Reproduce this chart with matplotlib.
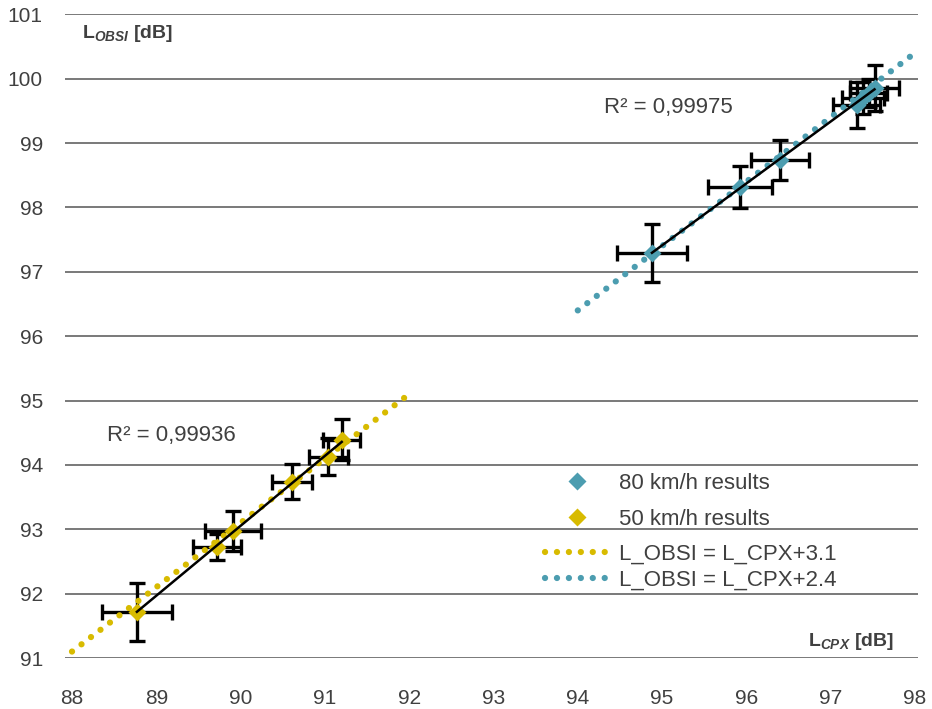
import matplotlib.pyplot as plt
import numpy as np

plt.rcParams['font.family'] = ['Liberation Sans', 'DejaVu Sans']
plt.rcParams['mathtext.fontset'] = 'custom'
plt.rcParams['mathtext.rm'] = 'Liberation Sans'
plt.rcParams['mathtext.bf'] = 'Liberation Sans:bold'
plt.rcParams['mathtext.it'] = 'Liberation Sans:italic:bold'

# 80 km/h measurements
cpx_80 = [94.88, 95.92, 96.40, 97.31, 97.38, 97.45, 97.52]
obsi_80 = [97.29, 98.32, 98.74, 99.59, 99.70, 99.78, 99.86]
cpx_err_80 = [0.42, 0.38, 0.34, 0.28, 0.25, 0.22, 0.29]
obsi_err_80 = [0.45, 0.33, 0.31, 0.36, 0.25, 0.22, 0.36]

# 50 km/h measurements
cpx_50 = [88.77, 89.72, 89.91, 90.61, 91.04, 91.20]
obsi_50 = [91.72, 92.73, 92.97, 93.74, 94.13, 94.39]
cpx_err_50 = [0.42, 0.28, 0.33, 0.24, 0.23, 0.22]
obsi_err_50 = [0.45, 0.20, 0.31, 0.27, 0.28, 0.32]

# reference relations L_OBSI = L_CPX + offset
offset_50 = 3.1
range_50 = [88, 92]
offset_80 = 2.4
range_80 = [94, 98]

r2_80 = '0,99975'
r2_50 = '0,99936'

teal = '#4c9db0'
gold = '#d8bb00'
text_c = '#404040'

fig = plt.figure(figsize=(9.32, 7.09), dpi=100)
ax = fig.add_axes([65 / 932, 51 / 709, 853 / 932, 643.7 / 709])

ax.set_xlim(87.917, 98.036)
ax.set_ylim(91, 101)
ax.set_xticks(np.arange(88, 99))
ax.set_yticks(np.arange(91, 102))
ax.tick_params(length=0, labelsize=15, colors=text_c)
ax.tick_params(axis='x', pad=22)
ax.tick_params(axis='y', pad=16)
ax.yaxis.grid(True, color='#555555', lw=1.1)
ax.set_axisbelow(True)
for s in ['top', 'right', 'left', 'bottom']:
    ax.spines[s].set_visible(False)

eb = dict(fmt='none', ecolor='black', elinewidth=2.4, capsize=6, capthick=2.4, zorder=2)
ax.errorbar(cpx_80, obsi_80, xerr=cpx_err_80, yerr=obsi_err_80, **eb)
ax.errorbar(cpx_50, obsi_50, xerr=cpx_err_50, yerr=obsi_err_50, **eb)

ax.plot(cpx_80, obsi_80, 'D', color=teal, ms=9.5, mec='none', zorder=3, label='80 km/h results')
ax.plot(cpx_50, obsi_50, 'D', color=gold, ms=9.5, mec='none', zorder=3, label='50 km/h results')

dots = (0, (0.01, 1.9))
xr50 = np.array(range_50, dtype=float)
xr80 = np.array(range_80, dtype=float)
l50, = ax.plot(xr50, xr50 + offset_50, color=gold, lw=4.5, ls=dots,
               dash_capstyle='round', zorder=4, label='L_OBSI = L_CPX+3.1')
l80, = ax.plot(xr80, xr80 + offset_80, color=teal, lw=4.5, ls=dots,
               dash_capstyle='round', zorder=4, label='L_OBSI = L_CPX+2.4')

# linear trend lines through each group
for xs, ys in [(cpx_80, obsi_80), (cpx_50, obsi_50)]:
    k, b = np.polyfit(xs, ys, 1)
    xx = np.array([min(xs), max(xs)])
    ax.plot(xx, k * xx + b, color='black', lw=1.8, zorder=5)

ax.text(94.31, 99.55, 'R² = ' + r2_80, fontsize=16, color=text_c, va='center')
ax.text(88.42, 94.45, 'R² = ' + r2_50, fontsize=16, color=text_c, va='center')

ax.text(88.12, 100.7, r'$\mathbf{L}_{OBSI}$ [dB]', fontsize=14, fontweight='bold',
        color=text_c, va='center')
ax.text(97.75, 91.25, r'$\mathbf{L}_{CPX}$ [dB]', fontsize=14, fontweight='bold',
        color=text_c, va='center', ha='right')

h, lab = ax.get_legend_handles_labels()
leg_kw = dict(frameon=False, fontsize=16, handlelength=2.9, handletextpad=0.45,
              borderpad=0, borderaxespad=0, loc='center left', labelcolor=text_c)
leg1 = fig.legend(h[:2], lab[:2], bbox_to_anchor=(545 / 932, 1 - 501.5 / 709),
                  labelspacing=0.68, **leg_kw)
leg2 = fig.legend(h[2:], lab[2:], bbox_to_anchor=(545 / 932, 1 - 567.5 / 709),
                  labelspacing=0.23, **leg_kw)

fig.savefig('out.png', dpi=100, facecolor='white')
